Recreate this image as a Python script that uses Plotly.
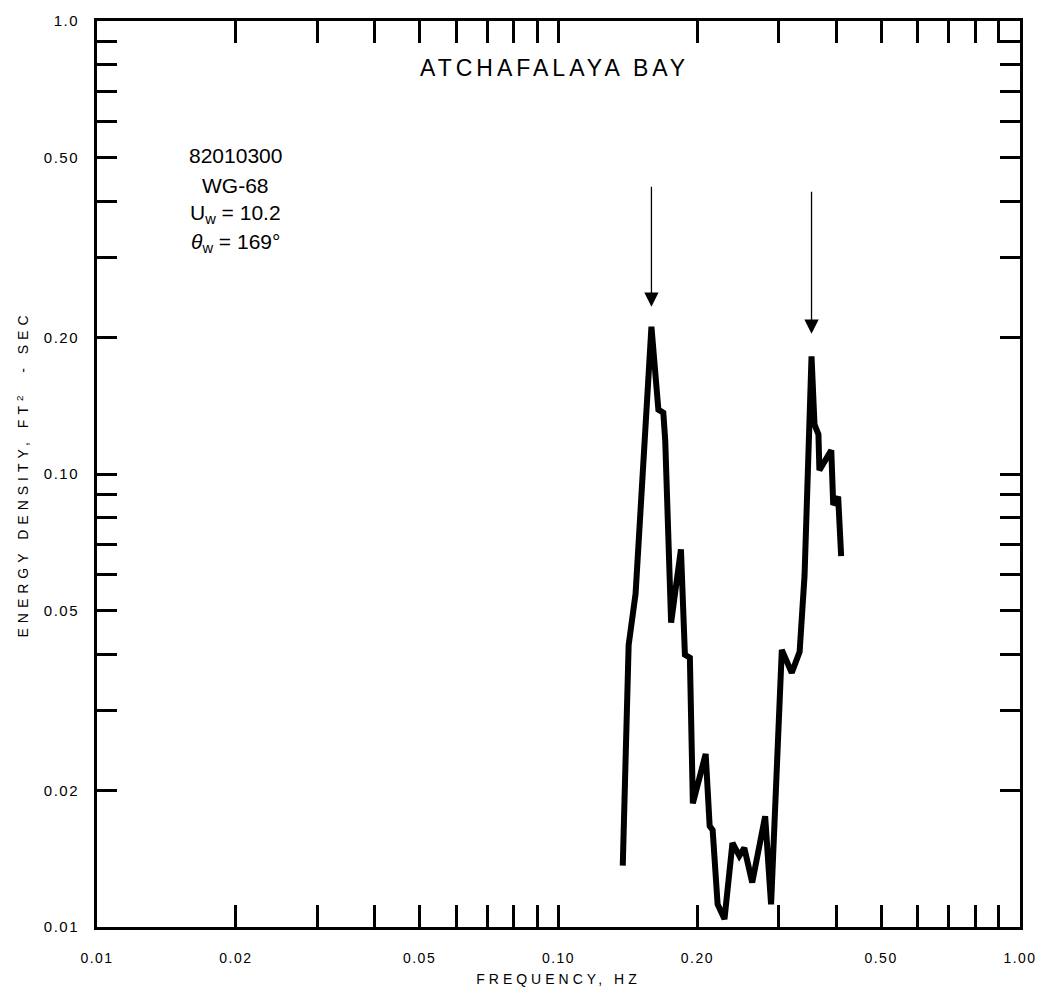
import math
import plotly.graph_objects as go

freq = [0.1378, 0.1419, 0.1469, 0.1543, 0.159, 0.1646, 0.1687, 0.1703, 0.1728, 0.1754,
        0.1842, 0.1879, 0.1926, 0.1955, 0.2084, 0.2126, 0.2158, 0.2212, 0.2289, 0.2382,
        0.2465, 0.2527, 0.2629, 0.2804, 0.2888, 0.2975, 0.3047, 0.3202, 0.333, 0.3413,
        0.3534, 0.3587, 0.3658, 0.3676, 0.39, 0.3938, 0.4036, 0.4097]
energy = [0.01366, 0.0419, 0.0544, 0.1204, 0.2115, 0.1387, 0.1366, 0.1187, 0.0778, 0.0470,
          0.0682, 0.0399, 0.0393, 0.01875, 0.0241, 0.0167, 0.01637, 0.01122, 0.01041, 0.01533,
          0.01436, 0.01495, 0.01254, 0.01756, 0.01122, 0.0218, 0.0409, 0.0364, 0.0405, 0.0596,
          0.1819, 0.1286, 0.1223, 0.102, 0.1128, 0.0855, 0.0891, 0.0659]

major_ticks = [0.01, 0.02, 0.05, 0.1, 0.2, 0.5, 1.0]
minor_ticks = [0.03, 0.04, 0.06, 0.07, 0.08, 0.09, 0.3, 0.4, 0.6, 0.7, 0.8, 0.9]
x_labels = ["0.01", "0.02", "0.05", "0.10", "0.20", "0.50", "1.00"]
y_labels = ["0.01", "0.02", "0.05", "0.10", "0.20", "0.50", "1.0"]

# arrows marking peaks: (frequency, tail energy, head energy)
arrows = [(0.159, 0.434, 0.234), (0.3534, 0.423, 0.204)]

info_lines = ["82010300", "WG-68", "U<sub>w</sub> = 10.2", "<i>θ</i><sub>w</sub> = 169°"]

font = "Liberation Sans, Arial, sans-serif"


def spaced(t, px):
    return f'<span style="letter-spacing:{px}px">{t}</span>'


fig = go.Figure()
fig.add_trace(go.Scatter(x=freq, y=energy, mode="lines",
                         line=dict(color="black", width=6), showlegend=False))

for f, e0, e1 in arrows:
    fig.add_annotation(x=math.log10(f), y=math.log10(e1), ax=math.log10(f), ay=math.log10(e0),
                       xref="x", yref="y", axref="x", ayref="y", text="",
                       showarrow=True, arrowhead=2, arrowsize=2.2, arrowwidth=1.3,
                       arrowcolor="black")

fig.add_annotation(x=0.4957, y=0.9476, xref="paper", yref="paper",
                   text=spaced("ATCHAFALAYA BAY", 4),
                   showarrow=False, font=dict(size=23, color="black", family=font),
                   xanchor="center", yanchor="middle")

info_y = [0.8515, 0.8188, 0.7875, 0.7545]
for t, yy in zip(info_lines, info_y):
    fig.add_annotation(x=0.150, y=yy, xref="paper", yref="paper", text=t,
                       showarrow=False, xanchor="center", yanchor="middle",
                       font=dict(size=21, color="black", family=font))

common = dict(type="log", range=[-2, 0], tickvals=major_ticks,
              ticks="inside", tickwidth=2.5, tickcolor="black",
              showline=True, linecolor="black", linewidth=3, mirror="ticks",
              showgrid=False, zeroline=False)

fig.update_xaxes(**common, ticktext=[spaced(t, 1.5) for t in x_labels], ticklen=22,
                 minor=dict(tickvals=minor_ticks, ticks="inside", ticklen=22, tickwidth=2.5,
                            tickcolor="black", showgrid=False),
                 ticklabelstandoff=16,
                 tickfont=dict(size=14, color="black", family=font),
                 title=dict(text=spaced("FREQUENCY, HZ", 4),
                            font=dict(size=14, color="black", family=font), standoff=10))
fig.update_yaxes(**common, ticktext=[spaced(t, 1.5) for t in y_labels], ticklen=20,
                 minor=dict(tickvals=minor_ticks, ticks="inside", ticklen=20, tickwidth=2.5,
                            tickcolor="black", showgrid=False),
                 ticklabelstandoff=12,
                 tickfont=dict(size=15, color="black", family=font),
                 title=dict(text=spaced("ENERGY DENSITY, FT<sup>2</sup>  - SEC", 5),
                            font=dict(size=14, color="black", family=font), standoff=12))

fig.update_layout(width=1049, height=998, margin=dict(l=97, r=18, t=19, b=63),
                  plot_bgcolor="white", paper_bgcolor="white")

fig.write_html("out.html")
